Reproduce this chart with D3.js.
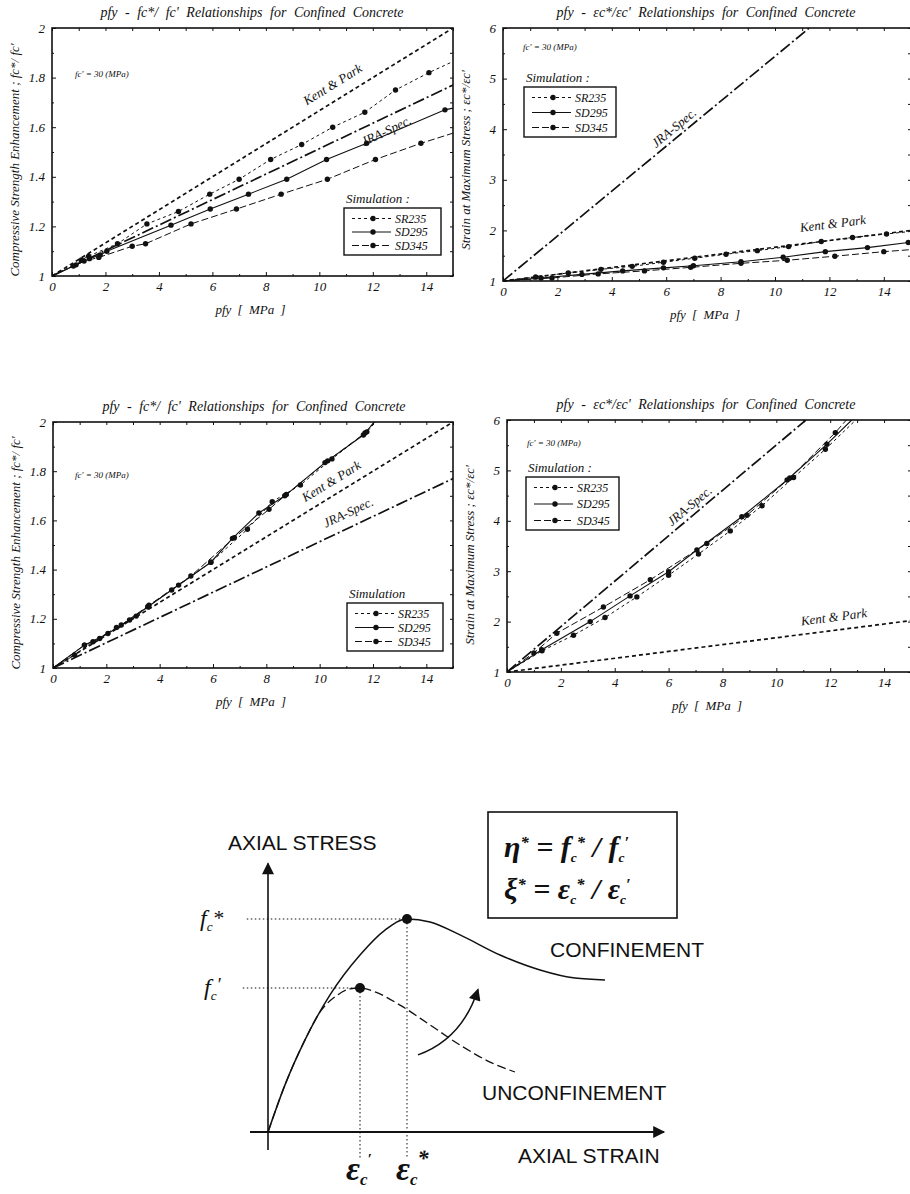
<!DOCTYPE html>
<html>
<head>
<meta charset="utf-8">
<script src="https://cdn.jsdelivr.net/npm/d3@7"></script>
<style>
  body { margin: 0; background: #fff; }
  svg { display: block; }
</style>
</head>
<body>
<svg width="910" height="1194"></svg>
<script>
const width = 910;
const height = 1194;
const serif = "'Liberation Serif', 'Times New Roman', serif";
const sans = "'Liberation Sans', Arial, sans-serif";

// tick values shared by the panels
const pfyTicks = [0, 2, 4, 6, 8, 10, 12, 14];
const pfyMinor = [1, 3, 5, 7, 9, 11, 13, 15];
const fcTicks = [1, 1.2, 1.4, 1.6, 1.8, 2];
const fcMinor = [1.1, 1.3, 1.5, 1.7, 1.9];
const epsTicks = [1, 2, 3, 4, 5, 6];
const epsMinor = [1.5, 2.5, 3.5, 4.5, 5.5];
const seriesNames = ['SR235', 'SD295', 'SD345'];

// panel a : fc*/fc' (top left)
const aKentPark = [[0, 1], [15, 2]];
const aJRA = [[0, 1], [15, 1.77]];
const aSR235 = [[0, 1], [0.8, 1.04], [1.1, 1.065], [1.37, 1.08], [2.45, 1.13], [3.55, 1.21], [4.73, 1.26], [5.9, 1.33], [7.0, 1.39], [8.18, 1.47], [9.34, 1.53], [10.5, 1.6], [11.7, 1.66], [12.85, 1.75], [14.1, 1.82], [15, 1.865]];
const aSD295 = [[0, 1], [0.9, 1.045], [1.4, 1.07], [1.8, 1.085], [2.05, 1.1], [4.45, 1.205], [5.92, 1.27], [7.35, 1.33], [8.78, 1.39], [10.27, 1.47], [11.77, 1.535], [14.7, 1.67], [15, 1.677]];
const aSD345 = [[0, 1], [1.2, 1.06], [1.75, 1.075], [3.0, 1.12], [3.5, 1.13], [5.2, 1.21], [6.9, 1.27], [8.57, 1.33], [10.3, 1.39], [12.1, 1.47], [13.8, 1.535], [15, 1.576]];

// panel b : ec*/ec' (top right)
const bKentPark = [[0, 1], [15, 2.0]];
const bJRA = [[0, 1], [11.26, 6]];
const bSR235 = [[0, 1], [1.2, 1.08], [2.4, 1.16], [3.6, 1.23], [4.75, 1.29], [5.9, 1.37], [7.05, 1.45], [8.2, 1.53], [9.35, 1.6], [10.5, 1.68], [11.7, 1.78], [12.85, 1.86], [14.1, 1.93], [15, 1.98]];
const bSD295 = [[0, 1], [1.4, 1.06], [2.9, 1.13], [4.4, 1.2], [5.9, 1.26], [7.0, 1.3], [8.75, 1.38], [10.3, 1.47], [11.85, 1.58], [13.4, 1.66], [14.9, 1.76], [15, 1.765]];
const bSD345 = [[0, 1], [1.8, 1.06], [3.5, 1.14], [5.2, 1.2], [6.9, 1.27], [8.75, 1.35], [10.45, 1.41], [12.2, 1.49], [14.0, 1.58], [15, 1.62]];

// panel c : fc*/fc' (middle left)
const cKentPark = [[0, 1], [15, 2]];
const cJRA = [[0, 1], [15, 1.77]];
const cSR235 = [[0, 1], [0.81, 1.053], [1.5, 1.107], [2.38, 1.165], [3.12, 1.211], [3.56, 1.249], [4.71, 1.337], [5.92, 1.43], [7.29, 1.564], [8.22, 1.676], [9.28, 1.744], [10.46, 1.85], [11.77, 1.96], [12.1, 2]];
const cSD295 = [[0, 1], [1.18, 1.093], [2.06, 1.14], [2.87, 1.195], [3.56, 1.249], [4.45, 1.317], [5.92, 1.43], [6.73, 1.527], [7.72, 1.63], [8.69, 1.7], [10.2, 1.835], [11.64, 1.947], [12.05, 2]];
const cSD345 = [[0, 1], [1.18, 1.093], [1.75, 1.12], [2.56, 1.175], [3.6, 1.255], [5.17, 1.374], [6.8, 1.53], [8.1, 1.645], [8.75, 1.705], [10.3, 1.842], [11.7, 1.955], [12.05, 2]];

// panel d : ec*/ec' (middle right)
const dKentPark = [[0, 1], [15, 2.02]];
const dJRA = [[0, 1], [11.1, 6]];
const dSR235 = [[0, 1], [1.3, 1.42], [2.47, 1.73], [3.64, 2.08], [4.82, 2.49], [6.0, 2.92], [7.11, 3.34], [8.29, 3.8], [9.47, 4.3], [10.64, 4.86], [11.82, 5.42], [12.95, 6]];
const dSD295 = [[0, 1], [1.29, 1.44], [3.09, 2.0], [4.57, 2.51], [6.0, 2.99], [7.05, 3.42], [8.72, 4.08], [10.4, 4.81], [11.88, 5.52], [12.8, 6]];
const dSD345 = [[0, 1], [1.0, 1.38], [1.85, 1.77], [3.58, 2.29], [5.32, 2.83], [7.42, 3.55], [8.91, 4.11], [10.5, 4.85], [12.19, 5.75], [12.6, 6]];

// schematic stress-strain curves (bottom), arbitrary units 0..100
const confStrain = [0, 4.25, 9.25, 15.5, 23, 29.25, 34.75, 40.5, 48, 58, 68, 76.75, 84.25];
const confStress = [0, 15.7, 30.7, 45.7, 59, 67.3, 71, 70, 65.7, 59, 54, 51.3, 50.7];
const unconfStrain = [0, 4.25, 9.25, 13, 17, 20.5, 23, 26.75, 33, 40.5, 48, 55.5, 61.75];
const unconfStress = [0, 15.7, 30.7, 40, 45.3, 47.7, 48, 46.7, 42.3, 35.7, 29, 23.3, 20];
const confPeak = [34.75, 71];
const unconfPeak = [23, 48];

const svg = d3.select('svg')
              .attr('width', width)
              .attr('height', height);

// line styles for the curves
const styles = {
  KentPark: { dash: '4,3', width: 1.7 },
  JRA: { dash: '12,3,2,3', width: 1.7 },
  SR235: { dash: '3,3', width: 1 },
  SD295: { dash: null, width: 1.1 },
  SD345: { dash: '7,3', width: 1 }
};

const italic = (sel, size) => sel.attr('font-family', serif)
                                 .attr('font-style', 'italic')
                                 .attr('font-size', size)
                                 .attr('fill', '#111');

const drawPanel = p => {
  const x = d3.scaleLinear().domain([0, 15]).range([p.left, p.right]);
  const y = d3.scaleLinear().domain(p.yDomain).range([p.bottom, p.top]);
  const g = svg.append('g');

  svg.append('clipPath').attr('id', 'clip-' + p.id)
     .append('rect')
       .attr('x', p.left).attr('y', p.top)
       .attr('width', p.right - p.left).attr('height', p.bottom - p.top);

  // ticks point inward on all four sides
  const clean = a => a.select('.domain').remove();
  const tickText = a => italic(a.selectAll('text'), 13);
  g.append('g').attr('transform', `translate(0,${p.bottom})`)
    .call(d3.axisBottom(x).tickValues(pfyTicks).tickSizeInner(-4).tickSizeOuter(0).tickPadding(6).tickFormat(d3.format('d')))
    .call(clean).call(tickText);
  g.append('g').attr('transform', `translate(0,${p.bottom})`)
    .call(d3.axisBottom(x).tickValues(pfyMinor).tickSizeInner(-2).tickSizeOuter(0).tickFormat(''))
    .call(clean);
  g.append('g').attr('transform', `translate(0,${p.top})`)
    .call(d3.axisTop(x).tickValues(pfyTicks.concat(pfyMinor)).tickSizeInner(-3).tickSizeOuter(0).tickFormat(''))
    .call(clean);
  g.append('g').attr('transform', `translate(${p.left},0)`)
    .call(d3.axisLeft(y).tickValues(p.yTicks).tickSizeInner(-4).tickSizeOuter(0).tickPadding(7).tickFormat(p.yFormat))
    .call(clean).call(tickText);
  g.append('g').attr('transform', `translate(${p.left},0)`)
    .call(d3.axisLeft(y).tickValues(p.yMinor).tickSizeInner(-2).tickSizeOuter(0).tickFormat(''))
    .call(clean);
  g.append('g').attr('transform', `translate(${p.right},0)`)
    .call(d3.axisRight(y).tickValues(p.yTicks.concat(p.yMinor)).tickSizeInner(-3).tickSizeOuter(0).tickFormat(''))
    .call(clean);
  g.selectAll('.tick line').attr('stroke', '#111');

  g.append('rect')
    .attr('x', p.left).attr('y', p.top)
    .attr('width', p.right - p.left).attr('height', p.bottom - p.top)
    .attr('fill', 'none').attr('stroke', '#111').attr('stroke-width', 1.6);

  const line = d3.line().x(d => x(d[0])).y(d => y(d[1]));
  const plot = g.append('g').attr('clip-path', `url(#clip-${p.id})`);

  const curves = [
    ['KentPark', p.kentPark], ['JRA', p.jra],
    ['SR235', p.series[0]], ['SD295', p.series[1]], ['SD345', p.series[2]]
  ];
  curves.forEach(([name, pts]) => {
    plot.append('path')
      .attr('d', line(pts))
      .attr('fill', 'none')
      .attr('stroke', '#111')
      .attr('stroke-width', styles[name].width)
      .attr('stroke-dasharray', styles[name].dash);
  });

  // simulation markers, not at the origin or at the frame edge
  p.series.forEach(pts => {
    plot.selectAll(null)
      .data(pts.slice(1, -1))
      .enter()
      .append('circle')
        .attr('cx', d => x(d[0]))
        .attr('cy', d => y(d[1]))
        .attr('r', 2.7)
        .attr('fill', '#111');
  });

  // labels along the two reference lines
  const lineLabel = (pts, at, off, text) => {
    const [p0, p1] = pts;
    const ang = Math.atan2(y(p1[1]) - y(p0[1]), x(p1[0]) - x(p0[0])) * 180 / Math.PI;
    const yv = p0[1] + (at - p0[0]) / (p1[0] - p0[0]) * (p1[1] - p0[1]);
    g.append('text')
      .attr('transform', `translate(${x(at)},${y(yv)}) rotate(${ang})`)
      .attr('y', off)
      .attr('text-anchor', 'middle')
      .text(text)
      .call(italic, 13);
  };
  lineLabel(p.kentPark, p.kpAt, p.kpOff, 'Kent & Park');
  lineLabel(p.jra, p.jraAt, p.jraOff, 'JRA-Spec.');

  // titles
  g.append('text').attr('x', p.titleX).attr('y', p.top - 11)
    .attr('text-anchor', 'middle').attr('word-spacing', 4)
    .text(p.title).call(italic, 14);
  g.append('text').attr('x', (p.left + p.right) / 2 - 2).attr('y', p.bottom + 38)
    .attr('text-anchor', 'middle').attr('word-spacing', 3)
    .text('pfy [ MPa ]').call(italic, 13);
  g.append('text')
    .attr('transform', `translate(${p.left - 33},${p.yLabelY}) rotate(-90)`)
    .attr('text-anchor', 'middle')
    .text(p.yLabel).call(italic, 13);
  g.append('text').attr('x', p.noteX).attr('y', p.noteY)
    .text("fc' = 30 (MPa)").call(italic, 9);

  // legend
  const L = p.legend;
  g.append('text').attr('x', L.x + 2).attr('y', L.y - 5)
    .text(L.title).call(italic, 13);
  g.append('rect')
    .attr('x', L.x).attr('y', L.y)
    .attr('width', L.w).attr('height', L.h)
    .attr('fill', '#fff').attr('stroke', '#111').attr('stroke-width', 1.4);
  seriesNames.forEach((name, i) => {
    const ry = L.y + 10.5 + i * (L.h - 20) / 2;
    g.append('line')
      .attr('x1', L.x + 8).attr('x2', L.x + 47)
      .attr('y1', ry).attr('y2', ry)
      .attr('stroke', '#111').attr('stroke-width', 1.1)
      .attr('stroke-dasharray', styles[name].dash);
    g.append('circle').attr('cx', L.x + 29).attr('cy', ry).attr('r', 2.7).attr('fill', '#111');
    g.append('text').attr('x', L.x + 51).attr('y', ry + 4)
      .text(name).call(italic, 12);
  });
};

const fcTitle = "pfy - fc*/ fc' Relationships for Confined Concrete";
const epsTitle = "pfy - \u03b5c*/\u03b5c' Relationships for Confined Concrete";
const fcLabel = "Compressive Strength Enhancement ; fc*/ fc'";
const epsLabel = "Strain at Maximum Stress ; \u03b5c*/\u03b5c'";
const fcFormat = d => d === 1 || d === 2 ? d3.format('d')(d) : d3.format('.1f')(d);

drawPanel({
  id: 'a', left: 52, right: 453, top: 28, bottom: 276,
  yDomain: [1, 2], yTicks: fcTicks, yMinor: fcMinor, yFormat: fcFormat,
  kentPark: aKentPark, jra: aJRA, series: [aSR235, aSD295, aSD345],
  kpAt: 10.8, kpOff: -11, jraAt: 12.3, jraOff: 17,
  title: fcTitle, titleX: 252, yLabel: fcLabel, yLabelY: 160,
  noteX: 75, noteY: 77,
  legend: { x: 344, y: 208, w: 97, h: 47, title: 'Simulation :' }
});
drawPanel({
  id: 'b', left: 503, right: 911, top: 28, bottom: 281,
  yDomain: [1, 6], yTicks: epsTicks, yMinor: epsMinor, yFormat: d3.format('d'),
  kentPark: bKentPark, jra: bJRA, series: [bSR235, bSD295, bSD345],
  kpAt: 12.2, kpOff: -12, jraAt: 6.5, jraOff: -5,
  title: epsTitle, titleX: 706, yLabel: epsLabel, yLabelY: 160,
  noteX: 523, noteY: 50,
  legend: { x: 524, y: 87, w: 92, h: 50, title: 'Simulation :' }
});
drawPanel({
  id: 'c', left: 53, right: 453, top: 422, bottom: 668,
  yDomain: [1, 2], yTicks: fcTicks, yMinor: fcMinor, yFormat: fcFormat,
  kentPark: cKentPark, jra: cJRA, series: [cSR235, cSD295, cSD345],
  kpAt: 10.7, kpOff: -9, jraAt: 11.3, jraOff: -10,
  title: fcTitle, titleX: 254, yLabel: fcLabel, yLabelY: 553,
  noteX: 75, noteY: 478,
  legend: { x: 347, y: 603, w: 96, h: 48, title: 'Simulation' }
});
drawPanel({
  id: 'd', left: 507, right: 911, top: 420, bottom: 672,
  yDomain: [1, 6], yTicks: epsTicks, yMinor: epsMinor, yFormat: d3.format('d'),
  kentPark: dKentPark, jra: dJRA, series: [dSR235, dSD295, dSD345],
  kpAt: 12.2, kpOff: -9, jraAt: 7.0, jraOff: -5,
  title: epsTitle, titleX: 706, yLabel: epsLabel, yLabelY: 555,
  noteX: 527, noteY: 446,
  legend: { x: 526, y: 477, w: 93, h: 53, title: 'Simulation :' }
});

// ---- schematic stress-strain diagram ----
const bx = d3.scaleLinear().domain([0, 100]).range([268, 668]);
const by = d3.scaleLinear().domain([0, 100]).range([1132, 832]);
const dg = svg.append('g');

const defs = svg.append('defs');
defs.append('marker').attr('id', 'arrow')
    .attr('viewBox', '0 0 10 10').attr('refX', 9).attr('refY', 5)
    .attr('markerWidth', 16).attr('markerHeight', 12)
    .attr('markerUnits', 'userSpaceOnUse').attr('orient', 'auto')
  .append('path').attr('d', 'M0,0 L10,5 L0,10 Z').attr('fill', '#111');

// axes
dg.append('line')
  .attr('x1', bx(0)).attr('y1', by(-6)).attr('x2', bx(0)).attr('y2', by(89.5))
  .attr('stroke', '#111').attr('stroke-width', 1.6).attr('marker-end', 'url(#arrow)');
dg.append('line')
  .attr('x1', bx(-4.5)).attr('y1', by(0)).attr('x2', bx(99)).attr('y2', by(0))
  .attr('stroke', '#111').attr('stroke-width', 2).attr('marker-end', 'url(#arrow)');

// dotted guides from the two peaks
const guide = (x1, y1, x2, y2) => dg.append('line')
  .attr('x1', bx(x1)).attr('y1', by(y1)).attr('x2', bx(x2)).attr('y2', by(y2))
  .attr('stroke', '#111').attr('stroke-width', 1).attr('stroke-dasharray', '1.5,2.5');
guide(-5.3, confPeak[1], confPeak[0], confPeak[1]);
guide(confPeak[0], confPeak[1], confPeak[0], -8.7);
guide(-6.3, unconfPeak[1], unconfPeak[0], unconfPeak[1]);
guide(unconfPeak[0], unconfPeak[1], unconfPeak[0], -8.7);

const curve = d3.line().x(d => bx(d[0])).y(d => by(d[1])).curve(d3.curveMonotoneX);
dg.append('path')
  .attr('d', curve(d3.zip(confStrain, confStress)))
  .attr('fill', 'none').attr('stroke', '#111').attr('stroke-width', 1.5);
dg.append('path')
  .attr('d', curve(d3.zip(unconfStrain, unconfStress)))
  .attr('fill', 'none').attr('stroke', '#111').attr('stroke-width', 1.3)
  .attr('stroke-dasharray', '9,4');
[confPeak, unconfPeak].forEach(pk => {
  dg.append('circle').attr('cx', bx(pk[0])).attr('cy', by(pk[1])).attr('r', 5).attr('fill', '#111');
});

// curved arrow from the unconfined to the confined curve
const path = d3.path();
path.moveTo(bx(37.5), by(25.7));
path.quadraticCurveTo(bx(48.5), by(31), bx(52.5), by(47.5));
dg.append('path').attr('d', path.toString())
  .attr('fill', 'none').attr('stroke', '#111').attr('stroke-width', 1.5)
  .attr('marker-end', 'url(#arrow)');

// upper-case labels
const capsLabel = (x, y, text) => dg.append('text')
  .attr('x', x).attr('y', y).text(text)
  .attr('font-family', sans).attr('font-size', 21).attr('fill', '#111');
capsLabel(228, 850, 'AXIAL STRESS');
capsLabel(550, 957, 'CONFINEMENT');
capsLabel(482, 1100, 'UNCONFINEMENT');
capsLabel(518, 1163, 'AXIAL STRAIN');

// math text built from pieces: [text, shift, scale] where shift moves the baseline
const mathText = (x, y, size, bold, pieces) => {
  const t = dg.append('text').attr('x', x).attr('y', y)
    .attr('font-family', serif).attr('font-style', 'italic')
    .attr('font-weight', bold ? 'bold' : 'normal')
    .attr('font-size', size).attr('fill', '#111');
  let cur = 0;
  pieces.forEach(([s, shift, scale]) => {
    t.append('tspan').attr('dy', shift - cur)
      .attr('font-size', size * (scale || 1)).text(s);
    cur = shift;
  });
  return t;
};

mathText(200, 926, 24, false, [['f', 0], ['c', 5, 0.55], ['*', -1, 0.9]]);
mathText(204, 995, 24, false, [['f', 0], ['c', 5, 0.55], ["\u2032", -4, 0.8]]);
mathText(346, 1180, 34, true, [['\u03b5', 0], ['c', 5, 0.5], ["\u2032", -16, 0.45]]);
mathText(396, 1180, 34, true, [['\u03b5', 0], ['c', 5, 0.5], ['*', -14, 0.65]]);

// definition box
dg.append('rect').attr('x', 488).attr('y', 812).attr('width', 189).attr('height', 106)
  .attr('fill', 'none').attr('stroke', '#111').attr('stroke-width', 1.6);
mathText(504, 857, 30, true, [['\u03b7', 0], ['*', -9, 0.55], [' = f', 0], ['c', 5, 0.45], ['*', -9, 0.55], [' / f', 0], ['c', 5, 0.45], ["\u2032", -9, 0.55]]);
mathText(504, 899, 30, true, [['\u03be', 0], ['*', -9, 0.55], [' = \u03b5', 0], ['c', 5, 0.45], ['*', -9, 0.55], [' / \u03b5', 0], ['c', 5, 0.45], ["\u2032", -9, 0.55]]);
</script>
</body>
</html>
